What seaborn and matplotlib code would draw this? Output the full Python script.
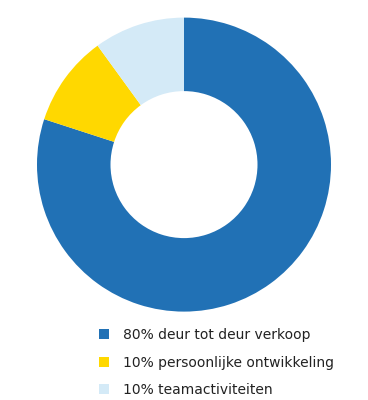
import matplotlib
matplotlib.use("Agg")
import matplotlib.pyplot as plt
import seaborn as sns

labels = ["80% deur tot deur verkoop", "10% persoonlijke ontwikkeling", "10% teamactiviteiten"]
values = [80, 10, 10]
colors = ["#2171b5", "#ffd800", "#d4eaf7"]

sns.set_theme(style="white")
plt.rcParams['font.family'] = ['DejaVu Sans']

fig = plt.figure(figsize=(3.68, 4.0), dpi=100)
ax = fig.add_axes([0.1005, 0.221, 0.799, 0.735])
wedges, _ = ax.pie(values, colors=colors, startangle=90, counterclock=False,
                   radius=1.0, wedgeprops=dict(width=0.5, linewidth=0))
ax.set_xlim(-1, 1)
ax.set_ylim(-1, 1)
ax.set_aspect('equal')
ax.axis('off')

leg = fig.legend(wedges, labels, loc='upper left', bbox_to_anchor=(0.270, 0.180),
                 frameon=False, fontsize=10, handlelength=0.72, handleheight=0.72,
                 handletextpad=0.95, labelspacing=0.98, borderaxespad=0, borderpad=0)
for t in leg.get_texts():
    t.set_color("#222222")

fig.savefig("out.png", dpi=100)
